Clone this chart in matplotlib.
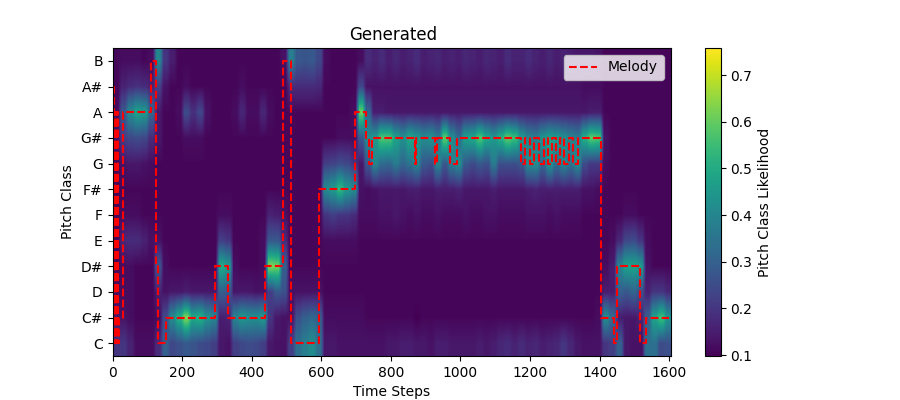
import numpy as np
import matplotlib
matplotlib.use("Agg")
import matplotlib.pyplot as plt

pitch_classes = ['C', 'C#', 'D', 'D#', 'E', 'F', 'F#', 'G', 'G#', 'A', 'A#', 'B']

# likelihood per pitch class, one value for every 20 time steps
row_c = [.20, .20, .16, .12, .12, .12, .18, .30, .24, .26,
         .28, .27, .25, .24, .22, .14, .13, .22, .24, .25,
         .24, .22, .14, .13, .13, .22, .34, .38, .42, .34,
         .14, .14, .13, .13, .13, .13, .13, .13, .13, .14,
         .14, .15, .15, .14, .14, .13, .15, .15, .14, .14,
         .14, .14, .15, .14, .15, .17, .18, .16, .18, .16,
         .17, .15, .16, .17, .20, .17, .14, .13, .13, .13,
         .20, .22, .30, .14, .13, .13, .34, .34, .25, .26]
row_cs = [.14, .13, .12, .11, .11, .11, .12, .25, .42, .52,
          .64, .50, .52, .44, .40, .15, .16, .40, .45, .43,
          .43, .46, .20, .14, .13, .13, .26, .30, .32, .30,
          .12, .12, .12, .12, .12, .12, .11, .11, .11, .11,
          .11, .11, .11, .10, .11, .11, .11, .11, .11, .11,
          .11, .11, .11, .11, .11, .11, .11, .11, .11, .11,
          .11, .11, .11, .11, .11, .11, .11, .11, .11, .12,
          .42, .33, .15, .14, .14, .16, .30, .48, .56, .44]
row_d = [.12, .12, .12, .11, .11, .11, .16, .13, .14, .14,
         .15, .14, .14, .14, .14, .30, .28, .14, .14, .14,
         .13, .13, .22, .28, .26, .13, .13, .13, .13, .13,
         .11, .11, .11, .11, .11, .11, .11, .11, .11, .11,
         .11, .11, .11, .11, .11, .11, .11, .11, .11, .11,
         .11, .11, .11, .11, .11, .11, .11, .11, .11, .11,
         .11, .11, .11, .11, .11, .11, .11, .11, .11, .11,
         .15, .15, .30, .28, .31, .26, .16, .20, .20, .17]
row_ds = [.11, .12, .12, .11, .11, .11, .28, .12, .11, .11,
          .11, .11, .11, .11, .11, .50, .46, .12, .11, .11,
          .11, .12, .64, .62, .30, .11, .11, .11, .11, .11,
          .11, .11, .11, .11, .11, .11, .11, .11, .11, .11,
          .11, .11, .11, .11, .11, .11, .11, .11, .11, .11,
          .11, .11, .11, .11, .11, .11, .11, .11, .11, .11,
          .11, .11, .11, .11, .11, .11, .11, .11, .11, .11,
          .12, .15, .40, .48, .48, .46, .13, .11, .11, .11]
row_e = [.11, .17, .18, .18, .16, .13, .13, .11, .11, .11,
         .11, .11, .11, .11, .11, .22, .20, .11, .11, .11,
         .11, .12, .28, .28, .18, .11, .11, .11, .11, .11,
         .12, .12, .12, .12, .12, .11, .11, .11, .11, .11,
         .11, .11, .11, .11, .11, .11, .11, .11, .11, .11,
         .11, .11, .11, .11, .11, .11, .11, .11, .11, .11,
         .11, .11, .11, .11, .11, .11, .11, .11, .11, .11,
         .11, .12, .17, .24, .25, .20, .12, .11, .11, .11]
row_f = [.11, .12, .12, .12, .11, .11, .11, .11, .11, .11,
         .11, .11, .11, .11, .11, .12, .12, .11, .11, .11,
         .11, .11, .16, .15, .13, .11, .11, .11, .11, .11,
         .20, .22, .20, .20, .18, .12, .12, .12, .13, .13,
         .14, .13, .12, .13, .12, .12, .13, .12, .12, .12,
         .13, .12, .12, .13, .13, .12, .12, .12, .12, .13,
         .13, .13, .12, .13, .12, .12, .12, .11, .11, .11,
         .11, .11, .11, .12, .12, .11, .11, .11, .11, .11]
row_fs = [.11, .11, .11, .11, .11, .11, .11, .11, .11, .11,
          .11, .11, .11, .11, .11, .11, .11, .11, .11, .11,
          .11, .11, .11, .11, .11, .11, .11, .11, .11, .11,
          .42, .46, .54, .46, .42, .13, .12, .13, .14, .14,
          .14, .14, .15, .15, .14, .14, .15, .15, .15, .16,
          .14, .14, .14, .14, .15, .14, .14, .14, .14, .15,
          .16, .15, .15, .15, .15, .15, .15, .13, .13, .12,
          .11, .11, .11, .11, .11, .11, .11, .11, .11, .11]
row_g = [.11, .13, .14, .14, .13, .12, .11, .11, .11, .11,
         .11, .11, .11, .11, .11, .11, .11, .11, .11, .11,
         .11, .11, .11, .11, .11, .11, .11, .11, .11, .11,
         .22, .23, .25, .24, .20, .14, .28, .40, .33, .32,
         .37, .32, .35, .40, .28, .26, .40, .28, .38, .42,
         .28, .25, .28, .26, .37, .26, .26, .26, .28, .42,
         .42, .32, .44, .34, .40, .35, .42, .25, .21, .21,
         .12, .11, .11, .11, .11, .11, .11, .11, .11, .11]
row_gs = [.13, .22, .24, .25, .24, .18, .14, .11, .11, .11,
          .12, .12, .12, .11, .11, .11, .11, .11, .11, .11,
          .11, .11, .11, .11, .11, .11, .11, .11, .11, .11,
          .11, .11, .12, .12, .12, .28, .42, .46, .58, .58,
          .48, .43, .50, .46, .42, .44, .38, .60, .42, .34,
          .48, .50, .58, .50, .45, .52, .60, .56, .46, .40,
          .38, .44, .48, .46, .43, .40, .38, .52, .60, .58,
          .13, .11, .11, .11, .11, .11, .11, .11, .11, .11]
row_a = [.12, .28, .42, .48, .46, .32, .14, .11, .11, .12,
         .25, .19, .24, .13, .11, .11, .11, .12, .17, .12,
         .12, .17, .12, .11, .11, .11, .11, .11, .11, .11,
         .11, .11, .11, .11, .12, .62, .32, .15, .15, .14,
         .14, .14, .14, .14, .14, .14, .14, .14, .14, .14,
         .14, .14, .14, .14, .14, .14, .14, .14, .14, .14,
         .14, .14, .14, .14, .14, .14, .14, .14, .15, .15,
         .11, .11, .11, .11, .11, .11, .11, .11, .11, .11]
row_as = [.11, .16, .18, .19, .18, .16, .22, .13, .11, .11,
          .12, .11, .11, .11, .11, .11, .11, .11, .12, .11,
          .11, .11, .11, .11, .11, .18, .18, .18, .18, .17,
          .11, .11, .11, .11, .11, .24, .13, .13, .13, .13,
          .13, .13, .13, .13, .13, .13, .13, .13, .13, .13,
          .13, .13, .13, .13, .13, .13, .13, .13, .13, .13,
          .13, .13, .13, .13, .13, .13, .13, .12, .12, .12,
          .11, .11, .11, .11, .11, .11, .11, .11, .11, .11]
row_b = [.11, .12, .12, .12, .11, .12, .40, .20, .15, .11,
         .11, .11, .11, .11, .11, .11, .11, .11, .11, .11,
         .11, .11, .11, .11, .13, .38, .28, .27, .28, .24,
         .12, .11, .11, .11, .11, .12, .18, .16, .18, .15,
         .17, .15, .16, .18, .15, .16, .17, .15, .16, .15,
         .17, .16, .15, .17, .16, .15, .18, .16, .16, .18,
         .16, .15, .17, .15, .16, .15, .14, .14, .14, .13,
         .11, .11, .11, .11, .11, .11, .11, .11, .11, .11]

# melody: time step where each note starts, and its pitch class index
melody_steps = [0, 5, 7, 10, 12, 15, 18, 29, 110, 126, 130, 153, 295, 332, 438, 491, 512, 595, 697, 728,
                738, 745, 869, 872, 927, 933, 969, 991, 1173, 1186, 1199, 1212, 1226, 1240, 1252,
                1262, 1274, 1286, 1298, 1312, 1324, 1338, 1403, 1442, 1451, 1516, 1535, 1600]
melody_pitch = [10, 0, 9, 0, 9, 0, 1, 9, 11, 3, 0, 1, 3, 1, 3, 11, 0, 6, 9, 8,
                7, 8, 7, 8, 7, 8, 7, 8, 7, 8, 7, 8, 7, 8, 7,
                8, 7, 8, 7, 8, 7, 8, 1, 0, 3, 0, 1, 1]

likelihood = np.array([row_c, row_cs, row_d, row_ds, row_e, row_f,
                       row_fs, row_g, row_gs, row_a, row_as, row_b])

plt.figure(figsize=(9, 4), dpi=100)
# repeat columns so bilinear only blurs a little along time, the bands have sharp edges
plt.imshow(np.repeat(likelihood, 2, axis=1), aspect='auto', origin='lower', cmap='viridis',
           interpolation='bilinear', extent=[0, 1604, -0.5, 11.5], vmin=0.098, vmax=0.758)
plt.colorbar(label='Pitch Class Likelihood')
plt.step(melody_steps, melody_pitch, where='post', color='red', linestyle='--', label='Melody')
plt.yticks(range(12), pitch_classes)
plt.xlim(0, 1604)
plt.ylim(-0.5, 11.5)
plt.title('Generated', x=0.503)
plt.xlabel('Time Steps')
plt.ylabel('Pitch Class')
plt.legend(loc='upper right')
plt.savefig('out.png', dpi=100)
